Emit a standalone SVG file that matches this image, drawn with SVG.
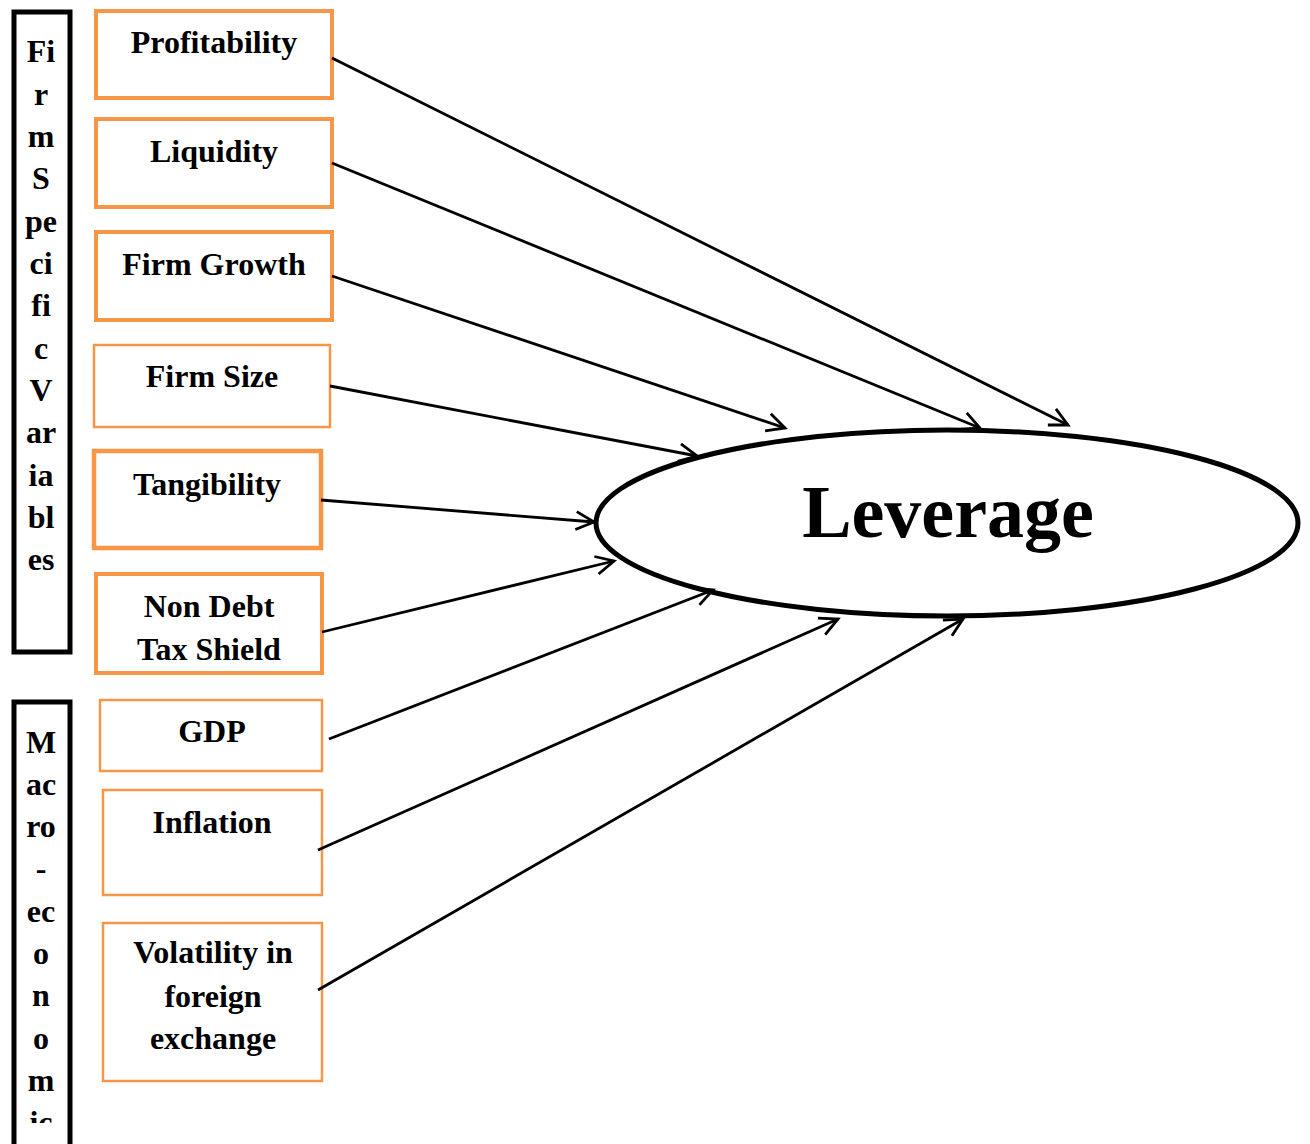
<svg xmlns="http://www.w3.org/2000/svg" width="1310" height="1144" viewBox="0 0 1310 1144">
<style>
.t{font-family:"Liberation Serif","Times New Roman",serif;font-weight:bold;font-size:32px;fill:#000;text-anchor:middle}
.ob{fill:#fff;stroke:#F79646}
.side{fill:#fff;stroke:#000;stroke-width:5}
.c{stroke:#000;stroke-width:2.8;fill:none;marker-end:url(#ah)}
</style>
<defs>
<marker id="ah" markerUnits="userSpaceOnUse" markerWidth="24" markerHeight="24" viewBox="0 0 24 24" refX="21" refY="12" orient="auto">
<path d="M3,3 L21,12 L3,21" fill="none" stroke="#000" stroke-width="2.8"/>
</marker>
<clipPath id="clipM"><rect x="14" y="702" width="56" height="421"/></clipPath>
</defs>
<rect width="1310" height="1144" fill="#fff"/>

<g id="firm-specific">
<rect class="side" x="14" y="12" width="56" height="640"/>
<text class="t" x="41">
<tspan x="41" y="62">Fi</tspan><tspan x="41" y="105">r</tspan><tspan x="41" y="147">m</tspan><tspan x="41" y="189">S</tspan><tspan x="41" y="232">pe</tspan><tspan x="41" y="274">ci</tspan><tspan x="41" y="316">fi</tspan><tspan x="41" y="359">c</tspan><tspan x="41" y="401">V</tspan><tspan x="41" y="443">ar</tspan><tspan x="41" y="486">ia</tspan><tspan x="41" y="528">bl</tspan><tspan x="41" y="570">es</tspan>
</text>
</g>

<g id="macro">
<rect class="side" x="14" y="702" width="56" height="460"/>
<text class="t" x="41" clip-path="url(#clipM)">
<tspan x="41" y="753">M</tspan><tspan x="41" y="795">ac</tspan><tspan x="41" y="837">ro</tspan><tspan x="41" y="879">-</tspan><tspan x="41" y="922">ec</tspan><tspan x="41" y="964">o</tspan><tspan x="41" y="1006">n</tspan><tspan x="41" y="1049">o</tspan><tspan x="41" y="1091">m</tspan><tspan x="41" y="1133">ic</tspan>
</text>
</g>

<g id="profitability">
<rect class="ob" x="96" y="11" width="236" height="87" stroke-width="4"/>
<text class="t" x="214" y="53">Profitability</text>
</g>
<g id="liquidity">
<rect class="ob" x="96" y="119" width="236" height="88" stroke-width="4"/>
<text class="t" x="214" y="162">Liquidity</text>
</g>
<g id="firm-growth">
<rect class="ob" x="96" y="232" width="236" height="88" stroke-width="4"/>
<text class="t" x="214" y="275">Firm Growth</text>
</g>
<g id="firm-size">
<rect class="ob" x="94" y="345" width="236" height="82" stroke-width="2.5"/>
<text class="t" x="212" y="387">Firm Size</text>
</g>
<g id="tangibility">
<rect class="ob" x="94" y="451" width="227" height="97" stroke-width="4.5"/>
<text class="t" x="207" y="495">Tangibility</text>
</g>
<g id="non-debt-tax-shield">
<rect class="ob" x="96" y="574" width="226" height="99" stroke-width="4"/>
<text class="t" x="209" y="617">Non Debt</text>
<text class="t" x="209" y="660">Tax Shield</text>
</g>
<g id="gdp">
<rect class="ob" x="100" y="700" width="222" height="71" stroke-width="2.5"/>
<text class="t" x="212" y="742">GDP</text>
</g>
<g id="inflation">
<rect class="ob" x="103" y="790" width="219" height="105" stroke-width="2.5"/>
<text class="t" x="212" y="833">Inflation</text>
</g>
<g id="volatility">
<rect class="ob" x="103" y="923" width="219" height="158" stroke-width="2.5"/>
<text class="t" x="213" y="963">Volatility in</text>
<text class="t" x="213" y="1007">foreign</text>
<text class="t" x="213" y="1049">exchange</text>
</g>

<g id="leverage">
<ellipse cx="947" cy="523" rx="351" ry="93" fill="#fff" stroke="#000" stroke-width="5"/>
<text x="948" y="537" style="font-family:'Liberation Serif','Times New Roman',serif;font-weight:bold;font-size:74px;text-anchor:middle">Leverage</text>
</g>

<g id="connectors">
<line class="c" x1="332" y1="58" x2="1068" y2="425"/>
<line class="c" x1="332" y1="163" x2="980" y2="428"/>
<line class="c" x1="332" y1="276" x2="785" y2="428"/>
<line class="c" x1="330" y1="386" x2="697" y2="456"/>
<line class="c" x1="321" y1="500" x2="594" y2="522"/>
<line class="c" x1="322" y1="632" x2="614" y2="561"/>
<line class="c" x1="329" y1="739" x2="713" y2="590"/>
<line class="c" x1="318" y1="850" x2="838" y2="619"/>
<line class="c" x1="318" y1="990" x2="963" y2="619"/>
</g>
</svg>
